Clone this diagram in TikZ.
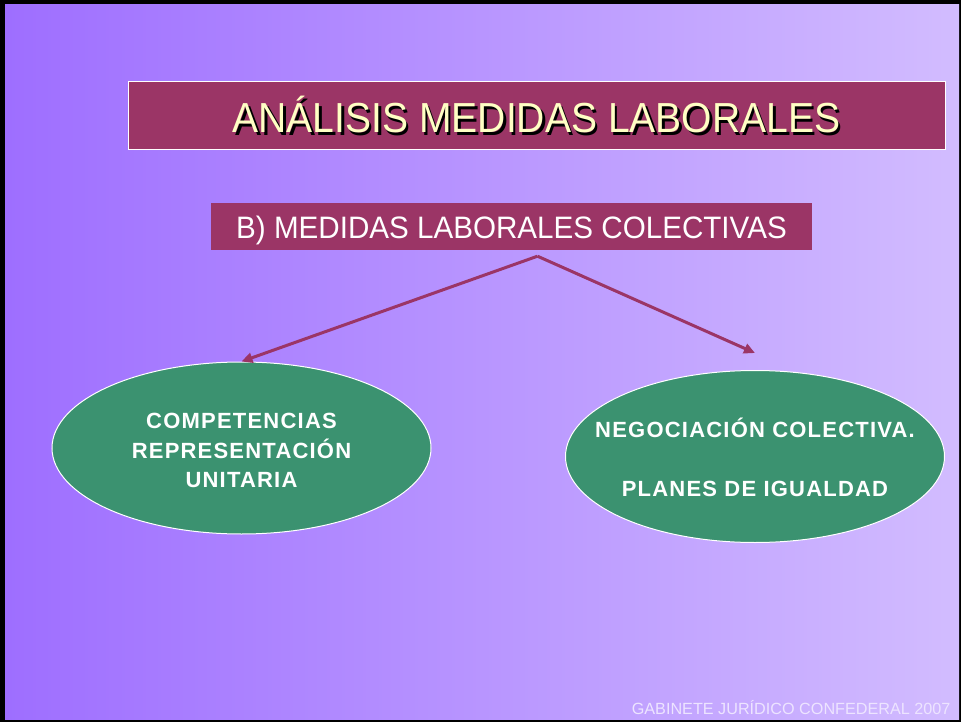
\documentclass[tikz,border=0pt]{standalone}
\usepackage{fontspec}
\setmainfont{Liberation Sans}
\newfontfamily\narrowfont[FakeStretch=0.93]{Liberation Sans}
\newfontfamily\subfont[FakeStretch=0.955]{Liberation Sans}
\usetikzlibrary{shapes.geometric,arrows.meta,calc,positioning}
\definecolor{wine}{HTML}{9B3566}
\definecolor{leaf}{HTML}{3B9270}
\definecolor{cream}{HTML}{FFFFC4}
\definecolor{lilacL}{HTML}{9E6EFF}
\definecolor{lilacR}{HTML}{D2BCFF}
\definecolor{footgray}{HTML}{EDE4FF}
\newcommand\shadowtext[1]{\makebox[0pt][l]{\hspace{2.5pt}\raisebox{-2.5pt}{\color{black}#1}}#1}
\tikzset{
	titlebox/.style={draw=white, line width=1pt, fill=wine, minimum width=817pt, minimum height=68pt,
		inner sep=0pt, text height=34pt, text depth=0pt, text=cream, font=\narrowfont\fontsize{42}{42}\selectfont},
	subbox/.style={fill=wine, minimum width=601pt, minimum height=47pt, inner sep=0pt,
		text height=25pt, text depth=0pt, text=white, font=\subfont\fontsize{31}{31}\selectfont},
	bubble/.style={ellipse, draw=white, line width=1pt, fill=leaf, minimum width=379pt, minimum height=172pt,
		inner sep=0pt, text=white, font=\fontsize{22}{29.5}\selectfont\bfseries\addfontfeature{LetterSpace=5.5}},
	link/.style={wine, line width=3pt, -{Triangle[length=11pt,width=10pt]}}
}
\begin{document}
\begin{tikzpicture}[x=1pt,y=-1pt]
	\fill[black] (0,0) rectangle (961,722);
	\shade[left color=lilacL, right color=lilacR] (5,5) rectangle (959,719);
	\node[titlebox] (title) at (536.5,116) {\shadowtext{ANÁLISIS MEDIDAS LABORALES}};
	\node[subbox] (sub) at (511.5,226.5) {B) MEDIDAS LABORALES COLECTIVAS};
	\node[bubble] (comp) at (241.5,448) {\makebox[0pt]{\begin{tabular}{@{}c@{}}\rule{0pt}{29.6pt}COMPETENCIAS\\REPRESENTACIÓN\\UNITARIA\end{tabular}}};
	\node[bubble] (neg) at (755,456.5) {\makebox[0pt]{\begin{tabular}{@{}c@{}}\rule{0pt}{29.6pt}NEGOCIACIÓN COLECTIVA.\\ \\PLANES DE IGUALDAD\end{tabular}}};
	\coordinate (apex) at ([xshift=26pt,yshift=-6pt]sub.south);
	\coordinate (negtip) at ([yshift=17pt]neg.north);
	\draw[link] (apex) -- (comp.north);
	\draw[link] (apex) -- (negtip);
	\node[anchor=base east, text=footgray, font=\fontsize{16.2}{16}\selectfont] (foot) at (954,714) {GABINETE JURÍDICO CONFEDERAL 2007};
\end{tikzpicture}
\end{document}
